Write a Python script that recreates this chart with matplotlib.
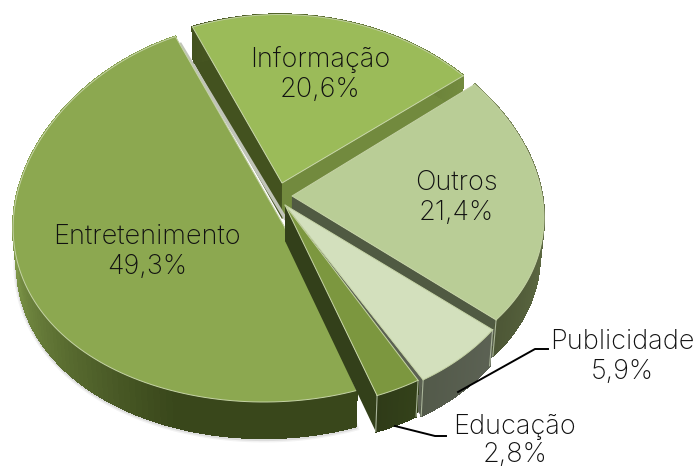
import numpy as np
from matplotlib import pyplot as plt
from matplotlib.collections import PolyCollection
from matplotlib.colors import to_rgb

# order follows the pie, clockwise
labels = ['Informação', 'Outros', 'Publicidade', 'Educação', 'Entretenimento']
shares = [20.6, 21.4, 5.9, 2.8, 49.3]
share_text = ['20,6%', '21,4%', '5,9%', '2,8%', '49,3%']

start_angle = -22.6  # clockwise from 12 o'clock
persp = 0.085
depth = 36

# ellipse per slice: the explode + perspective moves each one a bit
centers = {'Informação': (280, 176.5), 'Outros': (278, 202), 'Publicidade': (291, 200),
           'Educação': (287, 203), 'Entretenimento': (264, 212)}
radii = {'Informação': (247, 162), 'Outros': (265, 189), 'Publicidade': (245, 208),
         'Educação': (243, 205), 'Entretenimento': (250, 190)}
apexes = {'Informação': (282, 183), 'Outros': (292, 196), 'Publicidade': (285, 205),
          'Educação': (285, 205), 'Entretenimento': (284, 226)}

top_colors = {'Informação': '#9bbb59', 'Outros': '#b9cd96', 'Publicidade': '#d3e0bd',
              'Educação': '#7c973f', 'Entretenimento': '#8ca850'}
wall_colors = {'Informação': ('#43521f', '#728a3e'), 'Outros': ('#7a8a58', '#4d5736'),
               'Publicidade': ('#5c6254', '#535a4a'), 'Educação': ('#34421a', '#2f3b18'),
               'Entretenimento': ('#86a04e', '#39471b')}
# faces along the two cut edges (start, end)
face_colors = {'Informação': ('#43521f', '#728a3e'), 'Outros': ('#505a42', '#505a42'),
               'Publicidade': ('#5b6152', '#5b6152'), 'Educação': ('#5a6b30', '#33401a'),
               'Entretenimento': ('#33401a', '#33401a')}

# label -> (x, y of name, x, y of value)
text_pos = {'Informação': (320, 60, 320, 90), 'Outros': (456, 183, 456, 213),
            'Publicidade': (622, 342, 622, 372), 'Educação': (515, 427, 515, 455),
            'Entretenimento': (147, 237, 147, 267)}
leaders = {'Publicidade': ([458, 535, 548], [392, 349, 349]),
           'Educação': ([395, 435, 446], [426, 436, 436])}


def arc_points(name, th):
    cx, cy = centers[name]
    rx, ry = radii[name]
    x = cx + rx * np.sin(th) * (1 - persp * np.cos(th))
    y = cy - ry * np.cos(th)
    return x, y


def drop(name, x, y):
    # bottom rim: pushed down and pulled slightly to the middle
    cx = centers[name][0]
    return cx + (np.asarray(x) - cx) * 0.985, np.asarray(y) + depth


def draw_slice(ax, name, th0, th1, z):
    th = np.linspace(th0, th1, 120)
    x, y = arc_points(name, th)
    ax_, ay_ = apexes[name]
    xb, yb = drop(name, x, y)
    abx, aby = drop(name, ax_, ay_)

    # cut faces
    ax.fill([ax_, x[0], xb[0], abx], [ay_, y[0], yb[0], aby], color=face_colors[name][0], lw=0, zorder=z)
    ax.fill([ax_, x[-1], xb[-1], abx], [ay_, y[-1], yb[-1], aby], color=face_colors[name][1], lw=0, zorder=z)

    # outer wall, gradient along the arc
    c0, c1 = [np.array(to_rgb(c)) for c in wall_colors[name]]
    quads = []
    cols = []
    for i in range(len(th) - 1):
        quads.append([(x[i], y[i]), (x[i + 1], y[i + 1]), (xb[i + 1], yb[i + 1]), (xb[i], yb[i])])
        if name == 'Entretenimento':
            t = (th1 - th[i]) / (th1 - th0)
            cols.append(c0 + (c1 - c0) * np.clip((t - 0.38) / 0.4, 0, 1))
        else:
            t = i / (len(th) - 2)
            cols.append(c0 + (c1 - c0) * t)
    ax.add_collection(PolyCollection(quads, facecolors=cols, edgecolors=cols, linewidths=1.0,
                                     antialiaseds=False, zorder=z + 0.05))

    # seams on the wall ends
    if name in ('Outros', 'Publicidade', 'Educação'):
        ax.plot([x[0], xb[0]], [y[0], yb[0]], color='#aab59a', lw=0.8, zorder=z + 0.1)
        ax.plot([x[-1], xb[-1]], [y[-1], yb[-1]], color='#aab59a', lw=0.8, zorder=z + 0.1)

    if name == 'Entretenimento':
        # soft shadow under the front rim only, drawn below the wall
        front = np.cos(th) < 0.1
        for lw, a in [(5, 0.08), (3, 0.14)]:
            ax.plot(xb[front], yb[front] + 1, color='#606060', alpha=a, lw=lw, zorder=z - 0.1)

    # top
    ax.fill(np.r_[ax_, x], np.r_[ay_, y], color=top_colors[name], lw=0, zorder=z + 0.2)
    ax.plot(np.r_[x[-1], ax_, x[0]], np.r_[y[-1], ay_, y[0]], color='#c6d4a6', lw=0.7, zorder=z + 0.3)
    ax.plot(x, y, color='#c6d4a6', lw=0.7, zorder=z + 0.3)
    if name == 'Entretenimento':
        # pale shadow beside the upper cut
        ax.plot([x[-1] + 5, ax_ + 1], [y[-1] + 8, ay_ - 8], color='#c0c4b8', lw=2.5, zorder=z + 0.1)


fig = plt.figure(figsize=(6.99, 4.68), dpi=100)
ax = fig.add_axes([0, 0, 1, 1])
ax.set_xlim(0, 699)
ax.set_ylim(468, 0)
ax.axis('off')

plt.rcParams['font.family'] = ['Inter', 'DejaVu Sans']

# angles from the shares
edges = np.radians(start_angle + np.cumsum(np.r_[0, shares]) * 3.6)
span = dict(zip(labels, zip(edges[:-1], edges[1:])))

# painter's order: back slice first, narrow front ones last
for k, name in enumerate(['Informação', 'Outros', 'Entretenimento', 'Publicidade', 'Educação']):
    draw_slice(ax, name, *span[name], z=k + 1)

for name in labels:
    xn, yn, xv, yv = text_pos[name]
    i = labels.index(name)
    ax.text(xn, yn, name, ha='center', va='center', fontsize=19.5, color='#111111', weight='light', zorder=10)
    ax.text(xv, yv, share_text[i], ha='center', va='center', fontsize=19.5, color='#111111', weight='light', zorder=10)

for name in leaders:
    ax.plot(leaders[name][0], leaders[name][1], color='black', lw=1.4, zorder=9)

fig.savefig('out.png', dpi=100)
